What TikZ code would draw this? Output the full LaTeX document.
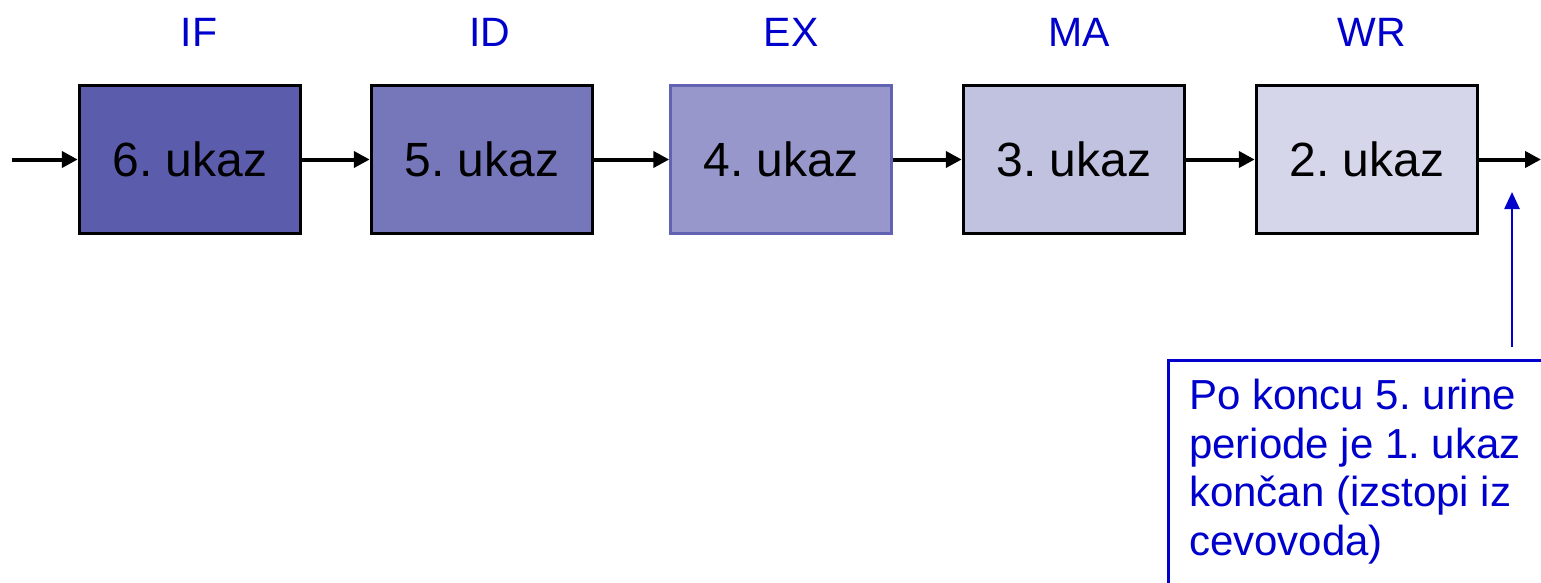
\documentclass[tikz,border=0pt]{standalone}
\usepackage{fontspec}
\setmainfont{Liberation Sans}
\usetikzlibrary{arrows.meta}
\frenchspacing
\definecolor{labblue}{HTML}{0000CC}
\definecolor{cA}{HTML}{5C5CAD}
\definecolor{cB}{HTML}{7676BA}
\definecolor{cC}{HTML}{9797CB}
\definecolor{cCb}{HTML}{6262B2}
\definecolor{cD}{HTML}{C1C1E0}
\definecolor{cE}{HTML}{D6D6EB}
\tikzset{
  stagebox/.style={draw=black, line width=3.5pt, minimum width=221pt, minimum height=148pt,
    inner sep=0pt, font=\fontsize{48}{56}\selectfont},
  stagelab/.style={text=labblue, inner sep=0pt, font=\fontsize{41}{48}\selectfont},
  flow/.style={line width=4pt, -{Triangle[length=16pt,width=16pt]}},
  bluearrow/.style={draw=labblue, line width=2.5pt, -{Triangle[length=17pt,width=15pt]}},
  noteframe/.style={draw=labblue, line width=2.5pt, inner sep=0pt, anchor=north west,
    minimum width=420pt, minimum height=260pt},
  notetext/.style={text=labblue, inner sep=0pt, anchor=north west, align=left,
    font=\fontsize{42}{48.5}\selectfont}
}
\begin{document}
\begin{tikzpicture}[x=1pt,y=-1pt]
\useasboundingbox (0,0) rectangle (1541,583);
\clip (0,0) rectangle (1541,583);
\fill[white] (0,0) rectangle (1541,583);

\node[stagebox, fill=cA] (b1) at (190,159.5) {6. ukaz};
\node[stagebox, fill=cB] (b2) at (482,159.5) {5. ukaz};
\node[stagebox, fill=cC, draw=cCb, line width=2.5pt] (b3) at (781,159.5) {4. ukaz};
\node[stagebox, fill=cD] (b4) at (1074,159.5) {3. ukaz};
\node[stagebox, fill=cE] (b5) at (1367,159.5) {2. ukaz};

\node[stagelab] (l1) at (199,32) {IF};
\node[stagelab] (l2) at (490,32) {ID};
\node[stagelab] (l3) at (791,32) {EX};
\node[stagelab] (l4) at (1079,32) {MA};
\node[stagelab] (l5) at (1372,32) {WR};

\coordinate (in) at (12,159.5);
\coordinate (out) at (1541,159.5);
\draw[flow] (in) -- (b1.west);
\draw[flow] (b1.east) -- (b2.west);
\draw[flow] (b2.east) -- (b3.west);
\draw[flow] (b3.east) -- (b4.west);
\draw[flow] (b4.east) -- (b5.west);
\draw[flow] (b5.east) -- (out);

\node[noteframe] (note) at (1167,359) {};
\node[notetext] (notetxt) at (1189,379) {Po koncu 5. urine\\periode je 1. ukaz\\kon\v{c}an (izstopi iz\\cevovoda)};

\coordinate (astart) at (1512,347);
\coordinate (atip) at (1512,192);
\draw[bluearrow] (astart) -- (atip);
\end{tikzpicture}
\end{document}
